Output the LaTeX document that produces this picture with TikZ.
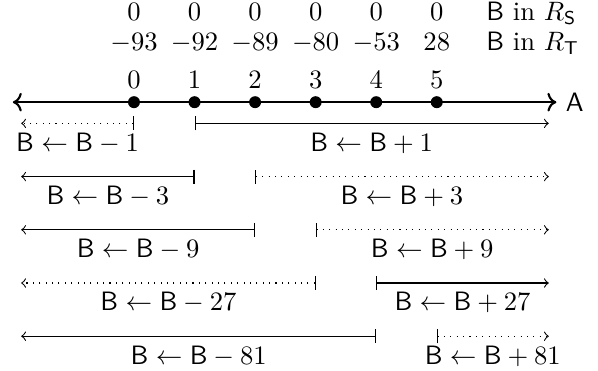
\documentclass[tikz,border=0pt]{standalone}
\usetikzlibrary{arrows.meta, positioning, calc}

\begin{document}
\begin{tikzpicture}[
    dot/.style={circle, fill=black, inner sep=0pt, minimum size=4.5pt},
    ival/.style={{Bar[width=5.3pt]}-to, thin},
    val/.style={anchor=base, inner sep=0pt}
  ]
  \useasboundingbox (-1.77,-3.54) rectangle (6.13,1.35);

  % Axis
  \coordinate (west) at (-1.6,0);
  \coordinate (east) at (5.58,0);
  \draw[thick, <->] (west) -- (east);
  \node[right] (A) at (east) {$\mathsf{A}$};

  % Points on the axis
  \foreach \i in {0,...,5} {
    \node[dot] (p\i) at (0.8*\i,0) {};
    \node[val] (n\i) at (0.8*\i,0.178) {$\i$};
  }

  % Values of B
  \foreach \i/\t in {0/-93,1/-92,2/-89,3/-80,4/-53,5/28} {
    \node[val] (s\i) at (0.8*\i,1.076) {$0$};
    \node[val] (t\i) at (0.8*\i,0.68) {$\t$};
  }
  \node[val, anchor=base west] (rs) at (4.647,1.076) {$\mathsf{B}$ in $R_{\mathsf{S}}$};
  \node[val, anchor=base west] (rt) at (4.647,0.68) {$\mathsf{B}$ in $R_{\mathsf{T}}$};

  % Moves
  \foreach \k/\v/\lsty/\rsty in {1/1/dotted/solid, 2/3/solid/dotted,
                                 3/9/solid/dotted, 4/27/dotted/solid,
                                 5/81/solid/dotted} {
    \pgfmathsetmacro{\y}{-0.28-0.703*(\k-1)}
    \coordinate (ls\k) at ({0.8*(\k-1)},\y);
    \coordinate (le\k) at (-1.49,\y);
    \coordinate (rb\k) at ({0.8*\k},\y);
    \coordinate (re\k) at (5.48,\y);
    \draw[ival, \lsty] (ls\k) -- (le\k)
      node[midway, below] (ml\k) {$\mathsf{B}\leftarrow\mathsf{B}-\v$};
    \draw[ival, \rsty] (rb\k) -- (re\k)
      node[midway, below] (mr\k) {$\mathsf{B}\leftarrow\mathsf{B}+\v$};
  }

\end{tikzpicture}
\end{document}
